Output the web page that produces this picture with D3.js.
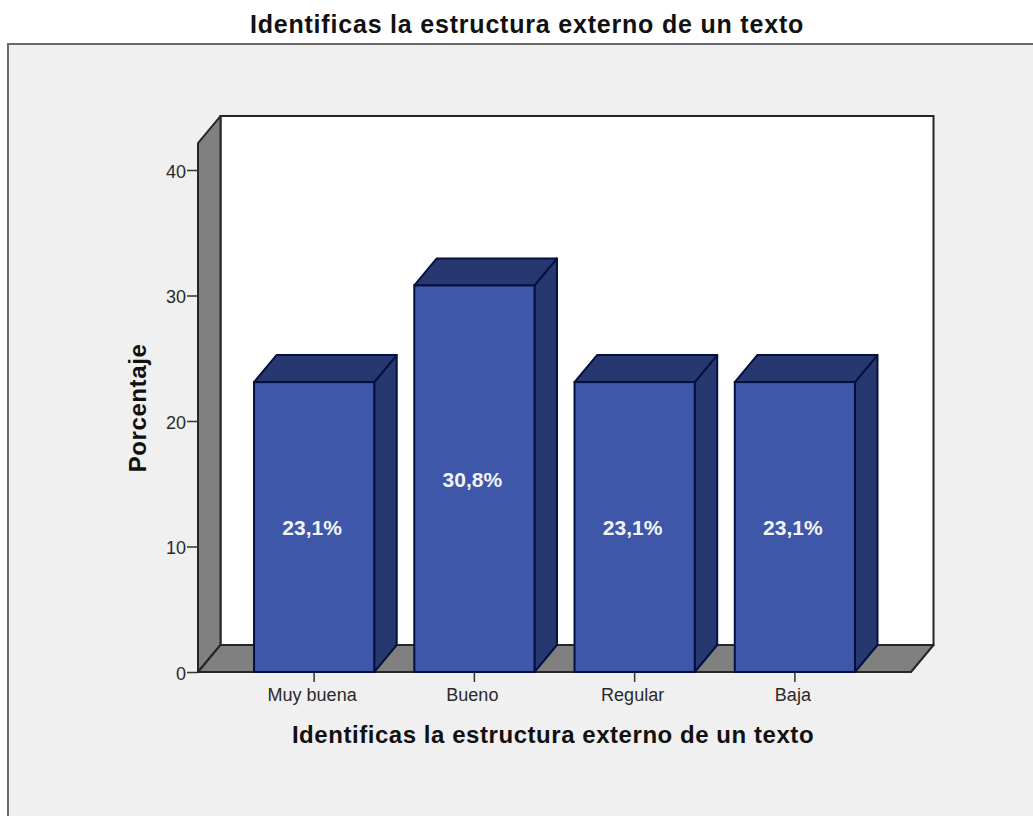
<!DOCTYPE html>
<html>
<head>
<meta charset="utf-8">
<script src="https://cdn.jsdelivr.net/npm/d3@7/dist/d3.min.js"></script>
<style>
html,body{margin:0;padding:0;background:#fff;}
svg{display:block;}
text{font-family:"Liberation Sans",Arial,sans-serif;}
</style>
</head>
<body>
<svg id="chart" width="1033" height="816"></svg>
<script>
const categories = ["Muy buena", "Bueno", "Regular", "Baja"];
const values = [23.1, 30.8, 23.1, 23.1];
const valueLabels = ["23,1%", "30,8%", "23,1%", "23,1%"];
const yTicks = [0, 10, 20, 30, 40];
const titleText = "Identificas la estructura externo de un texto";
const xTitleText = "Identificas la estructura externo de un texto";
const yTitleText = "Porcentaje";

const svg = d3.select("#chart");
const depthX = 22.5, depthY = -27;
const y = d3.scaleLinear().domain([0, 40]).range([672, 170]);
const x = d3.scaleBand().domain(categories).range([234, 875]).paddingInner(0.25).paddingOuter(0.125);
const floorL = 198, floorR = 911, wallTop = y(42.15);

const ink = "#262626", grey = "#808080";
const navy = "#06103f";
const poly = pts => "M" + pts.map(p => p.join(",")).join("L") + "Z";

// outer frame
svg.append("rect").attr("x", 8).attr("y", 44).attr("width", 1040).attr("height", 790)
  .attr("fill", "#f0f0f0").attr("stroke", "#6a6a6a").attr("stroke-width", 2);

svg.append("text").attr("x", 527).attr("y", 33).attr("text-anchor", "middle")
  .attr("font-size", 25).attr("font-weight", "bold").attr("letter-spacing", 0.8).attr("fill", "#111").text(titleText);

// 3D walls
const y0 = y(0);
svg.append("path").attr("d", poly([[floorL + depthX, wallTop + depthY], [floorR + depthX, wallTop + depthY], [floorR + depthX, y0 + depthY], [floorL + depthX, y0 + depthY]]))
  .attr("fill", "#fff").attr("stroke", ink).attr("stroke-width", 2);
svg.append("path").attr("d", poly([[floorL, wallTop], [floorL + depthX, wallTop + depthY], [floorL + depthX, y0 + depthY], [floorL, y0]]))
  .attr("fill", grey).attr("stroke", ink).attr("stroke-width", 2).attr("stroke-linejoin", "round");
svg.append("path").attr("d", poly([[floorL, y0], [floorL + depthX, y0 + depthY], [floorR + depthX, y0 + depthY], [floorR, y0]]))
  .attr("fill", grey).attr("stroke", ink).attr("stroke-width", 2).attr("stroke-linejoin", "round");

// axes
const yAxis = d3.axisLeft(y).tickValues(yTicks).tickSize(11).tickPadding(1).tickFormat(d3.format("d"));
const yG = svg.append("g").attr("transform", `translate(${floorL},0)`).call(yAxis);
yG.select(".domain").remove();
yG.selectAll("line").attr("stroke", "#333").attr("stroke-width", 1.5);
yG.selectAll("text").attr("font-size", 18).attr("fill", "#2a2a2a").attr("dy", "0.4em");

const xAxis = d3.axisBottom(x).tickSize(10).tickPadding(6);
const xG = svg.append("g").attr("transform", `translate(0,${y0})`).call(xAxis);
xG.select(".domain").remove();
xG.selectAll("line").attr("stroke", "#333").attr("stroke-width", 1.5);
xG.selectAll("text").attr("font-size", 18).attr("fill", "#2a2a2a").attr("dx", -2).attr("textLength", null);

// 3D bars
const bars = svg.append("g").selectAll("g").data(categories).join("g");
const bw = x.bandwidth();
const idx = d => categories.indexOf(d);
bars.append("path")
  .attr("d", d => { const a = x(d), t = y(values[idx(d)]); return poly([[a + bw, t], [a + bw + depthX, t + depthY], [a + bw + depthX, y0 + depthY], [a + bw, y0]]); })
  .attr("fill", "#273870").attr("stroke", navy).attr("stroke-width", 2).attr("stroke-linejoin", "round");
bars.append("path")
  .attr("d", d => { const a = x(d), t = y(values[idx(d)]); return poly([[a, t], [a + depthX, t + depthY], [a + bw + depthX, t + depthY], [a + bw, t]]); })
  .attr("fill", "#273870").attr("stroke", navy).attr("stroke-width", 2).attr("stroke-linejoin", "round");
bars.append("rect")
  .attr("x", d => x(d)).attr("y", d => y(values[idx(d)]))
  .attr("width", bw).attr("height", d => y0 - y(values[idx(d)]))
  .attr("fill", "#3f57a8").attr("stroke", navy).attr("stroke-width", 2);
bars.append("text")
  .attr("x", d => x(d) + bw / 2 - 2)
  .attr("y", d => (y(values[idx(d)]) + y0) / 2 + 8)
  .attr("text-anchor", "middle").attr("font-size", 21).attr("font-weight", "bold")
  .attr("fill", "#f4f4f8").text(d => valueLabels[idx(d)]);

// axis titles
svg.append("text").attr("x", 553).attr("y", 743).attr("text-anchor", "middle")
  .attr("font-size", 24).attr("font-weight", "bold").attr("letter-spacing", 0.55).attr("fill", "#111").text(xTitleText);
svg.append("text").attr("transform", "translate(146,408) rotate(-90)").attr("text-anchor", "middle")
  .attr("font-size", 24).attr("font-weight", "bold").attr("letter-spacing", 0.6).attr("fill", "#111").text(yTitleText);
</script>
</body>
</html>
